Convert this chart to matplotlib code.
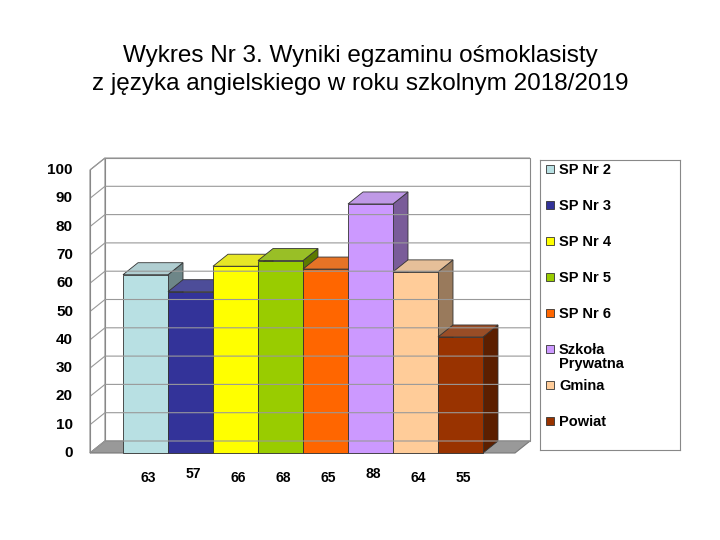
import matplotlib
matplotlib.use("Agg")
import matplotlib.pyplot as plt
from matplotlib.patches import Polygon, Rectangle
import matplotlib.colors as mcolors

schools = ["SP Nr 2", "SP Nr 3", "SP Nr 4", "SP Nr 5", "SP Nr 6",
           "Szkoła\nPrywatna", "Gmina", "Powiat"]
# bar heights as drawn, and the numbers printed under the bars
bar_heights = [63, 57, 66, 68, 65, 88, 64, 41]
value_labels = ["63", "57", "66", "68", "65", "88", "64", "55"]
colors = ["#B8E0E3", "#333399", "#FFFF00", "#99CC00", "#FF6600",
          "#CC99FF", "#FFCC99", "#993300"]
yticks = list(range(0, 101, 10))

plt.rcParams["font.family"] = ["Liberation Sans", "DejaVu Sans"]
fig = plt.figure(figsize=(7.2, 5.4), dpi=100)
fig.text(0.5, 1 - 70 / 540, "Wykres Nr 3. Wyniki egzaminu ośmoklasisty\n"
         "z języka angielskiego w roku szkolnym 2018/2019",
         ha="center", va="center", fontsize=17.5, linespacing=1.3)

# main axes: x in pixel units, y in score units
ax = fig.add_axes([90 / 720, 87 / 540, 440 / 720, 310 / 540])
px = 2.83                # pixels per score unit
ax.set_xlim(90, 530)
ax.set_ylim(0, 310 / px)
ax.axis("off")
dx, dy = 15, 12 / px     # depth offset
wall_x0, wall_x1 = 105, 530

# back wall + gridlines
ax.add_patch(Rectangle((wall_x0, dy), wall_x1 - wall_x0, 100, fc="white",
                       ec="#888888", lw=0.8))
ax.add_patch(Polygon([(90, 0), (wall_x0, dy), (wall_x0, 100 + dy), (90, 100)],
                     fc="white", ec="#888888", lw=0.8))
for t in yticks:
    ax.plot([90, wall_x0, wall_x1], [t, t + dy, t + dy], color="#999999", lw=0.8)
    ax.text(73, t, str(t), ha="right", va="center", fontsize=11, fontweight="bold")
ax.plot([90, 90], [0, 100], color="#888888", lw=0.8)
# floor
ax.add_patch(Polygon([(90, 0), (515, 0), (wall_x1, dy), (wall_x0, dy)],
                     fc="#999999", ec="#777777", lw=0.8))

# bars
bw = 45
for i, (v, lab, c) in enumerate(zip(bar_heights, value_labels, colors)):
    x0 = 123 + bw * i
    rgb = mcolors.to_rgb(c)
    dark = tuple(ch * 0.6 for ch in rgb)
    light = tuple(ch * 0.75 + 0.25 * 0.6 for ch in rgb)
    ax.add_patch(Polygon([(x0 + bw, 0), (x0 + bw + dx, dy), (x0 + bw + dx, v + dy),
                          (x0 + bw, v)], fc=dark, ec="#333333", lw=0.6))
    ax.add_patch(Polygon([(x0, v), (x0 + dx, v + dy), (x0 + bw + dx, v + dy),
                          (x0 + bw, v)], fc=light, ec="#333333", lw=0.6))
    ax.add_patch(Rectangle((x0, 0), bw, v, fc=c, ec="#333333", lw=0.6))
    ax.text(x0 + bw / 2 + 3, -9 + (1.5 if lab in ("88", "57") else 0), lab,
            ha="center", va="center", fontsize=10, fontweight="bold")
for p in ax.patches:
    p.set_clip_on(False)

# legend box
lax = fig.add_axes([540 / 720, 90 / 540, 140 / 720, 290 / 540])
lax.set_xlim(0, 140)
lax.set_ylim(290, 0)
lax.set_xticks([])
lax.set_yticks([])
for s in lax.spines.values():
    s.set_color("#888888")
    s.set_linewidth(0.8)
for i, (name, c) in enumerate(zip(schools, colors)):
    y = 9 + 36 * i
    lax.add_patch(Rectangle((6, y - 4), 8, 8, fc=c, ec="#333333", lw=0.6))
    lax.text(19, y - 6, name, ha="left", va="top", fontsize=10.5,
             fontweight="bold", linespacing=1.0)

fig.savefig("out.png", dpi=100)
